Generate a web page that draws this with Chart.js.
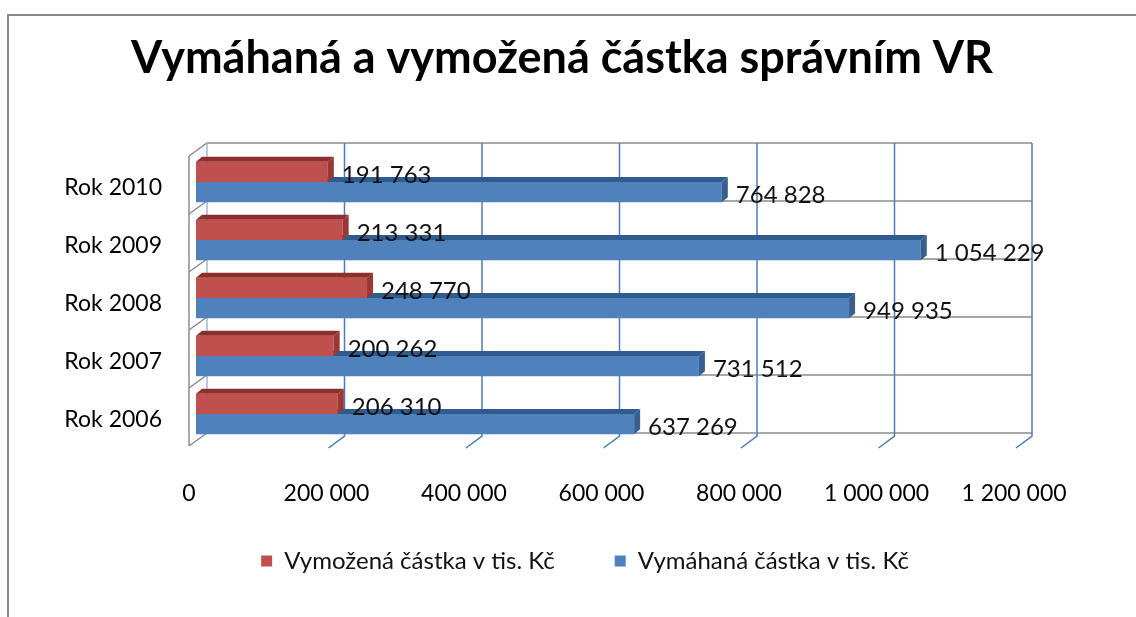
<!DOCTYPE html>
<html>
<head>
<meta charset="utf-8">
<title>Vymáhaná a vymožená částka</title>
<script src="https://cdn.jsdelivr.net/npm/chart.js@4"></script>
<style>
  html, body { margin: 0; padding: 0; background: #ffffff; }
</style>
</head>
<body>
<canvas id="vrChart" width="1136" height="617"></canvas>
<script>
// data
const years = ["Rok 2010", "Rok 2009", "Rok 2008", "Rok 2007", "Rok 2006"];
const vymozena = [191763, 213331, 248770, 200262, 206310];
const vymahana = [764828, 1054229, 949935, 731512, 637269];
const xTicks = [0, 200000, 400000, 600000, 800000, 1000000, 1200000];

const seriesNames = ["Vymožená částka v tis. Kč", "Vymáhaná částka v tis. Kč"];
const titleText = "Vymáhaná a vymožená částka správním VR";

const redFront = "#c0504d", redTop = "#8c2f2c", redSide = "#9a3835";
const blueFront = "#4f81bd", blueTop = "#2f5b8e", blueSide = "#385f8f";

const fontFamily = "Lato, 'Open Sans', sans-serif";
Chart.defaults.font.family = fontFamily;
Chart.defaults.color = "#000000";

function fmt(v) {
  return String(v).replace(/\B(?=(\d{3})+(?!\d))/g, " ");
}

// outer frame of the picture
const framePlugin = {
  id: "frame",
  beforeDraw(chart) {
    const ctx = chart.ctx;
    ctx.save();
    ctx.fillStyle = "#ffffff";
    ctx.fillRect(0, 0, chart.width, chart.height);
    ctx.strokeStyle = "#8a8a8a";
    ctx.lineWidth = 2;
    ctx.beginPath();
    ctx.moveTo(8, chart.height);
    ctx.lineTo(8, 15);
    ctx.lineTo(chart.width, 15);
    ctx.stroke();
    ctx.restore();
  }
};

// back wall, side wall and floor ticks (3D look)
const wallPlugin = {
  id: "walls",
  beforeDatasetsDraw(chart) {
    const ctx = chart.ctx;
    const xs = chart.scales.x;
    const ca = chart.chartArea;
    const bdx = 11, bdy = -10;
    const band = (ca.bottom - ca.top) / years.length;
    const top = ca.top + bdy, bottom = ca.bottom + bdy;
    const left = xs.getPixelForValue(xTicks[0]) + bdx;
    const right = xs.getPixelForValue(xTicks[xTicks.length - 1]) + bdx;

    ctx.save();
    ctx.lineWidth = 1.5;

    // horizontal lines on the back wall + side wall
    ctx.strokeStyle = "#8c8c8c";
    for (let i = 0; i <= years.length; i++) {
      const yy = top + i * band;
      ctx.beginPath();
      ctx.moveTo(right, yy);
      ctx.lineTo(left, yy);
      ctx.lineTo(left - 18, yy + 13);
      ctx.stroke();
    }
    ctx.beginPath();
    ctx.moveTo(left - 18, top + 13);
    ctx.lineTo(left - 18, bottom + 13);
    ctx.stroke();

    ctx.strokeStyle = "#9fb6d6";
    ctx.beginPath();
    ctx.moveTo(left, top);
    ctx.lineTo(left, bottom);
    ctx.stroke();

    // vertical gridlines + floor ticks
    ctx.strokeStyle = "#4a7ebb";
    xTicks.forEach(v => {
      if (v === 0) return;
      const bx = xs.getPixelForValue(v) + bdx;
      ctx.beginPath();
      ctx.moveTo(bx, top);
      ctx.lineTo(bx, bottom + 3);
      ctx.lineTo(bx - 16, bottom + 15);
      ctx.stroke();
    });
    ctx.restore();
  }
};

// top and side faces of the bars
const bar3dPlugin = {
  id: "bar3d",
  afterDatasetDraw(chart, args) {
    const ctx = chart.ctx;
    const topCol = args.index === 0 ? redTop : blueTop;
    const sideCol = args.index === 0 ? redSide : blueSide;
    const d = 6, h = 5;
    ctx.save();
    args.meta.data.forEach(bar => {
      const p = bar.getProps(["x", "y", "base", "height"], true);
      const t = p.y - p.height / 2, b = p.y + p.height / 2;
      ctx.fillStyle = topCol;
      ctx.beginPath();
      ctx.moveTo(p.base, t);
      ctx.lineTo(p.x, t);
      ctx.lineTo(p.x + d, t - h);
      ctx.lineTo(p.base + d, t - h);
      ctx.closePath();
      ctx.fill();
      ctx.fillStyle = sideCol;
      ctx.beginPath();
      ctx.moveTo(p.x, t);
      ctx.lineTo(p.x + d, t - h);
      ctx.lineTo(p.x + d, b - h);
      ctx.lineTo(p.x, b);
      ctx.closePath();
      ctx.fill();
    });
    ctx.restore();
  }
};

// value labels next to the bars
const valueLabelPlugin = {
  id: "valueLabels",
  afterDatasetsDraw(chart) {
    const ctx = chart.ctx;
    ctx.save();
    ctx.font = "24px " + fontFamily;
    ctx.fillStyle = "#111111";
    ctx.textAlign = "left";
    ctx.textBaseline = "middle";
    chart.data.datasets.forEach((ds, di) => {
      chart.getDatasetMeta(di).data.forEach((bar, i) => {
        const p = bar.getProps(["x", "y"], true);
        ctx.fillText(fmt(ds.data[i]), p.x + 14, p.y + 3);
      });
    });
    ctx.restore();
  }
};

// legend sits a bit right of the page centre and closer to the axis
const legendShift = {
  id: "legendShift",
  afterLayout(chart) {
    const lg = chart.legend;
    if (lg) {
      lg.left += 23;
      lg.right += 23;
      lg.top -= 34;
      lg.bottom -= 34;
    }
  }
};

new Chart(document.getElementById("vrChart"), {
  type: "bar",
  data: {
    labels: years,
    datasets: [
      {
        label: seriesNames[0],
        data: vymozena,
        backgroundColor: redFront,
        categoryPercentage: 0.7,
        barPercentage: 1.0
      },
      {
        label: seriesNames[1],
        data: vymahana,
        backgroundColor: blueFront,
        categoryPercentage: 0.7,
        barPercentage: 1.0
      }
    ]
  },
  options: {
    indexAxis: "y",
    responsive: false,
    animation: false,
    layout: { padding: { left: 0, right: 12, top: 0, bottom: 0 } },
    scales: {
      x: {
        min: 0,
        max: 1200000,
        grid: { display: false },
        border: { display: false },
        afterBuildTicks(scale) {
          scale.ticks = xTicks.map(v => ({ value: v }));
        },
        afterFit(scale) { scale.height = 80; },
        ticks: {
          padding: 29,
          labelOffset: -7,
          maxRotation: 0,
          autoSkip: false,
          font: { size: 23 },
          callback: v => fmt(v)
        }
      },
      y: {
        grid: { display: false },
        border: { display: false },
        afterFit(scale) { scale.width = 196; },
        ticks: {
          padding: 26,
          labelOffset: 6,
          font: { size: 23 }
        }
      },
      pad: {
        type: "linear",
        position: "right",
        grid: { display: false },
        border: { display: false },
        ticks: { display: false },
        afterFit(scale) { scale.width = 103; }
      }
    },
    plugins: {
      title: {
        display: true,
        text: titleText,
        color: "#000000",
        font: { size: 45, weight: "bold" },
        padding: { top: 31, bottom: 68 }
      },
      legend: {
        position: "bottom",
        labels: {
          boxWidth: 11,
          boxHeight: 11,
          padding: 60,
          color: "#111111",
          font: { size: 24 }
        }
      },
      tooltip: { enabled: false }
    }
  },
  plugins: [framePlugin, wallPlugin, bar3dPlugin, valueLabelPlugin, legendShift]
});
</script>
</body>
</html>
